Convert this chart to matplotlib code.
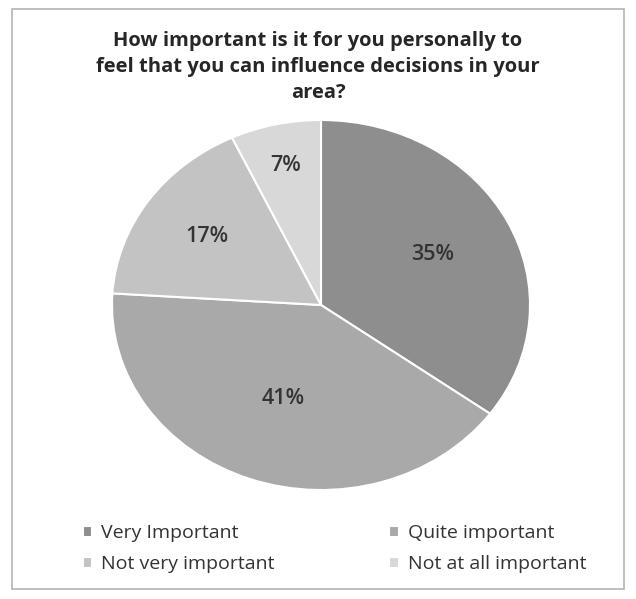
import numpy as np
import matplotlib.pyplot as plt
from matplotlib.patches import Rectangle

labels = ["Very Important", "Quite important", "Not very important", "Not at all important"]
values = [35, 41, 17, 7]
colors = ["#8e8e8e", "#a9a9a9", "#c3c3c3", "#d8d8d8"]
title = "How important is it for you personally to\nfeel that you can influence decisions in your\narea?"

plt.rcParams['font.family'] = ['Open Sans', 'DejaVu Sans']

W, H = 636, 599
fig = plt.figure(figsize=(W / 100, H / 100), dpi=100)

# outer chart border
fig.patches.append(Rectangle((12 / W, 10 / H), 612 / W, 580 / H,
                             transform=fig.transFigure, fill=False,
                             edgecolor="#b4b4b4", linewidth=1.2))

fig.text(0.5, 1 - 67 / H, title, ha="center", va="center",
         fontsize=14.5, fontweight="bold", color="#262626", linespacing=1.38)

# pie is a bit wider than tall
ax = fig.add_axes([112 / W, 1 - 490 / H, 418 / W, 370 / H])
wedges, texts = ax.pie(values, colors=colors, startangle=90, counterclock=False,
                       wedgeprops=dict(edgecolor="white", linewidth=1.5))
ax.set_aspect("auto")
ax.set_xlim(-1, 1)
ax.set_ylim(-1, 1)

# percent labels along each wedge's mid-angle
radii = [0.6, 0.54, 0.66, 0.77]
start = 90
for v, r in zip(values, radii):
    mid = np.deg2rad(start - v * 3.6 / 2)
    ax.text(r * np.cos(mid), r * np.sin(mid), f"{v}%", ha="center", va="center",
            fontsize=15.5, fontweight="semibold", color="#333333")
    start -= v * 3.6

# legend fills column-wise, so reorder to read across rows
order = [0, 2, 1, 3]
leg = fig.legend([wedges[i] for i in order], [labels[i] for i in order], ncol=2,
                 loc="upper left", bbox_to_anchor=(65 / W, 1 - 507 / H), frameon=False,
                 fontsize=14, handlelength=0.5, handleheight=0.5,
                 handletextpad=0.46, columnspacing=5.9, labelspacing=0.65)
for t in leg.get_texts():
    t.set_color("#333333")

fig.savefig("out.png", dpi=100, facecolor="white")
